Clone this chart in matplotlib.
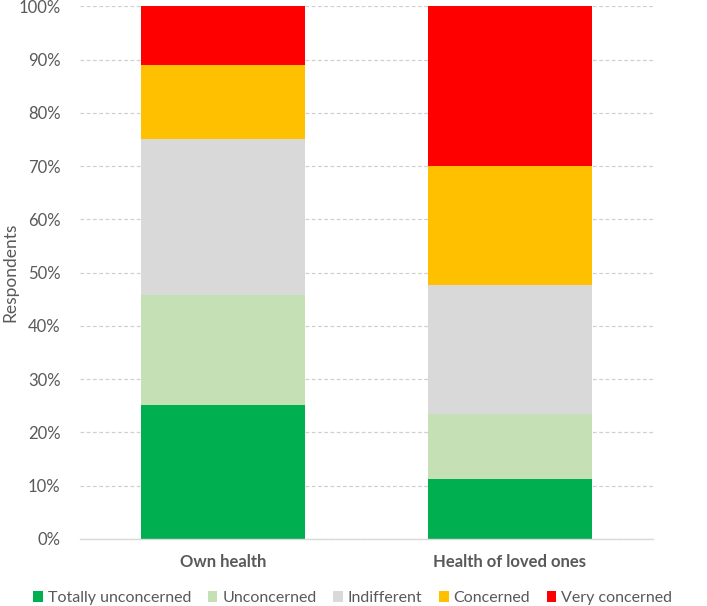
import matplotlib.pyplot as plt
import numpy as np
from matplotlib.ticker import PercentFormatter

categories = ["Own health", "Health of loved ones"]
levels = ["Totally unconcerned", "Unconcerned", "Indifferent", "Concerned", "Very concerned"]
colors = ["#00b050", "#c5e0b4", "#d9d9d9", "#ffc000", "#ff0000"]

totally_unconcerned = [25.1, 11.3]
unconcerned = [20.7, 12.2]
indifferent = [29.2, 24.2]
concerned = [13.9, 22.3]
very_concerned = [11.1, 30.0]
series = [totally_unconcerned, unconcerned, indifferent, concerned, very_concerned]

plt.rcParams["font.family"] = ["Lato", "DejaVu Sans"]
text_color = "#595959"

fig = plt.figure(figsize=(7.07, 6.06), dpi=100)
ax = fig.add_axes([0.113, 0.1106, 0.811, 0.879])

x = np.arange(len(categories))
bottom = np.zeros(len(categories))
for name, vals, col in zip(levels, series, colors):
    ax.bar(x, vals, width=0.573, bottom=bottom, color=col, label=name, zorder=2)
    bottom += np.array(vals)

ax.set_xlim(-0.5, 1.5)
ax.set_ylim(0, 100)
ax.set_yticks(np.arange(0, 101, 10))
ax.yaxis.set_major_formatter(PercentFormatter(decimals=0))
ax.grid(axis="y", color="#d0d0d0", linestyle=(0, (3, 2)), linewidth=0.9, zorder=0)
ax.set_axisbelow(True)

for side in ["top", "right", "left"]:
    ax.spines[side].set_visible(False)
ax.spines["bottom"].set_color("#d9d9d9")
ax.spines["bottom"].set_linewidth(1.0)

ax.tick_params(axis="both", length=0, labelsize=12, colors=text_color)
ax.tick_params(axis="y", pad=14)
ax.tick_params(axis="x", pad=11)
ax.set_xticks(x)
ax.set_xticklabels(categories, fontweight="bold")

fig.text(0.014, 0.55, "Respondents", rotation=90, ha="center", va="center",
         fontsize=12.5, color=text_color)

fig.legend(*ax.get_legend_handles_labels(), loc="center", bbox_to_anchor=(0.499, 0.013),
           ncol=5, frameon=False, fontsize=11.5, labelcolor=text_color,
           handlelength=0.6, handleheight=0.6, handletextpad=0.3, columnspacing=1.05)

fig.savefig("out.png", dpi=100)
